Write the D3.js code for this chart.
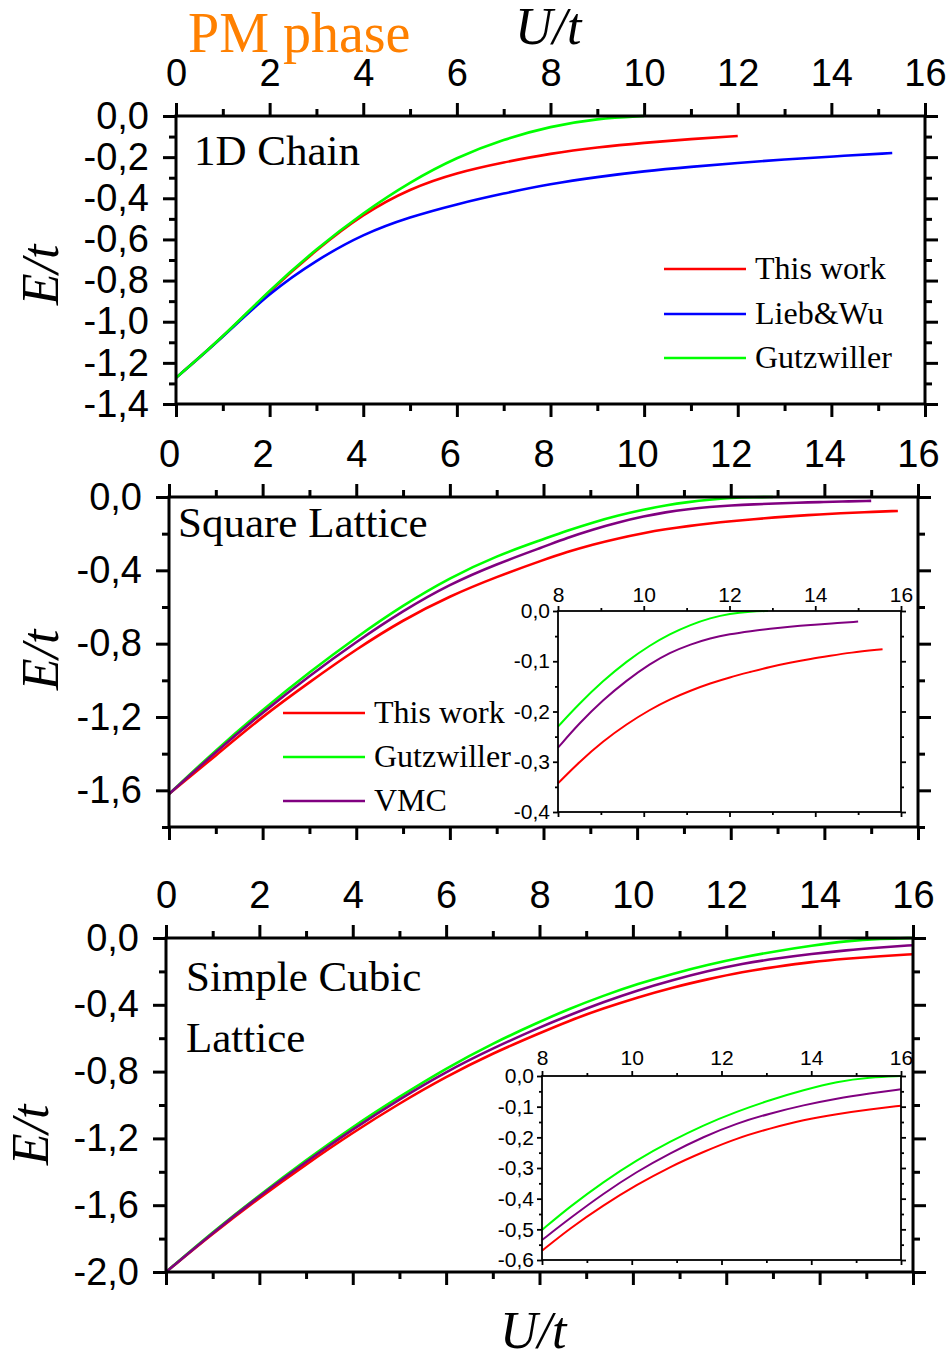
<!DOCTYPE html>
<html><head><meta charset="utf-8">
<script src="https://cdn.jsdelivr.net/npm/d3@7"></script>
<style>html,body{margin:0;padding:0;background:#fff;}svg{display:block;}</style>
</head><body>
<script>
// ---------------- data ----------------
// 1D chain
const uChainThis = [0,1,2,3,4,5,6,7,8,9,10,11,12];
const chainThisWork = [-1.273,-1.075,-0.85,-0.65,-0.475,-0.352,-0.275,-0.225,-0.182,-0.152,-0.13,-0.112,-0.097];
const uChainLW = [0,1,2,3,4,5,6,7,8,9,10,11,12,13,14,15.3];
const chainLiebWu = [-1.273,-1.075,-0.858,-0.7,-0.573,-0.49,-0.428,-0.376,-0.33,-0.296,-0.268,-0.247,-0.228,-0.211,-0.197,-0.18];
const uChainG = [0,1,2,3,4,5,6,7,8,9,10];
const chainGutz = [-1.273,-1.075,-0.845,-0.645,-0.47,-0.32,-0.2,-0.113,-0.05,-0.012,0];
// Square lattice
const uSqThis = [0,1,2,3,4,5,6,7,8,8.5,9.05,9.6,10.15,10.6,11.1,11.55,12,12.5,12.95,13.4,13.9,14.35,14.8,15.57];
const sqThisWork = [-1.62,-1.41,-1.196,-1.01,-0.83,-0.67,-0.54,-0.435,-0.343,-0.3,-0.259,-0.225,-0.196,-0.176,-0.158,-0.144,-0.132,-0.121,-0.111,-0.103,-0.095,-0.089,-0.083,-0.076];
const uSqG = [0,1,2,3,4,5,6,7,8,8.5,9.05,9.6,10.15,10.6,11.1,11.55,12,12.5,12.9];
const sqGutz = [-1.62,-1.38,-1.16,-0.955,-0.765,-0.59,-0.44,-0.32,-0.23,-0.184,-0.139,-0.1,-0.068,-0.046,-0.027,-0.014,-0.005,-0.001,0];
const uSqV = [0,1,2,3,4,5,6,7,8,8.5,9.05,9.6,10.15,10.6,11.1,11.55,12,12.5,12.95,13.4,13.9,14.35,15];
const sqVMC = [-1.62,-1.39,-1.175,-0.975,-0.79,-0.62,-0.475,-0.365,-0.272,-0.223,-0.177,-0.138,-0.105,-0.083,-0.066,-0.054,-0.046,-0.04,-0.035,-0.031,-0.028,-0.025,-0.021];
// Simple cubic lattice
const uSc = [0,1,2,3,4,5,6,7,8,8.62,9.37,10.11,10.85,11.6,12.34,13.08,13.83,14.57,15.31,16];
const scThisWork = [-2.0,-1.77,-1.555,-1.355,-1.165,-0.99,-0.83,-0.69,-0.57,-0.497,-0.421,-0.355,-0.296,-0.247,-0.203,-0.171,-0.143,-0.124,-0.109,-0.097];
const scGutz = [-2.0,-1.76,-1.54,-1.33,-1.13,-0.95,-0.78,-0.63,-0.502,-0.426,-0.345,-0.274,-0.214,-0.160,-0.116,-0.078,-0.046,-0.018,-0.004,0];
const scVMC = [-2.0,-1.765,-1.545,-1.34,-1.145,-0.965,-0.80,-0.66,-0.535,-0.464,-0.383,-0.312,-0.252,-0.198,-0.154,-0.122,-0.095,-0.073,-0.057,-0.043];

// ticks
const xMajor = [0,2,4,6,8,10,12,14,16];
const xMinor = [1,3,5,7,9,11,13,15];
const y1Major = [0,-0.2,-0.4,-0.6,-0.8,-1.0,-1.2,-1.4];
const y1Minor = [-0.1,-0.3,-0.5,-0.7,-0.9,-1.1,-1.3];
const y2Major = [0,-0.4,-0.8,-1.2,-1.6];
const y2Minor = [-0.2,-0.6,-1.0,-1.4,-1.8];
const y3Major = [0,-0.4,-0.8,-1.2,-1.6,-2.0];
const y3Minor = [-0.2,-0.6,-1.0,-1.4,-1.8];
const insXMajor = [8,10,12,14,16];
const insXMinor = [9,11,13,15];
const ins2YMajor = [0,-0.1,-0.2,-0.3,-0.4];
const ins2YMinor = [-0.05,-0.15,-0.25,-0.35];
const ins3YMajor = [0,-0.1,-0.2,-0.3,-0.4,-0.5,-0.6];
const ins3YMinor = [-0.05,-0.15,-0.25,-0.35,-0.45,-0.55];

const legend1 = ["This work","Lieb&Wu","Gutzwiller"];
const legend2 = ["This work","Gutzwiller","VMC"];

const RED="#ff0000", BLUE="#0000ff", GREEN="#00ff00", PURPLE="#800080";
const SANS = "'Liberation Sans', Arial, sans-serif";
const SERIF = "'Liberation Serif', 'Times New Roman', serif";

const loc = d3.formatLocale({decimal:",", thousands:".", grouping:[3], currency:["",""], minus:"-"});
const f1 = loc.format(".1f");
const fInt = loc.format("d");

const W=952, H=1357;
const svg = d3.select("body").append("svg").attr("width",W).attr("height",H);
svg.append("rect").attr("width",W).attr("height",H).attr("fill","#fff");

function zip(u, e){ return u.map((d,i)=>({u:d, e:e[i]})); }

function axes(g, x, y, o){
  const [x0,x1] = x.range(); const [yb,yt] = y.range();
  const style = sel => {
    sel.select(".domain").remove();
    sel.selectAll("line").attr("stroke","#000").attr("stroke-width",o.sw);
    sel.selectAll("text").attr("font-family",SANS).attr("font-size",o.fs).attr("fill","#000");
  };
  g.append("g").attr("transform",`translate(0,${yt})`)
    .call(d3.axisTop(x).tickValues(o.xMajor).tickSize(o.maj).tickPadding(o.xPad).tickFormat(fInt)).call(style);
  g.append("g").attr("transform",`translate(0,${yt})`)
    .call(d3.axisTop(x).tickValues(o.xMinor).tickSize(o.min).tickFormat("")).call(style);
  g.append("g").attr("transform",`translate(0,${yb})`)
    .call(d3.axisBottom(x).tickValues(o.xMajor).tickSize(o.maj).tickFormat("")).call(style);
  g.append("g").attr("transform",`translate(0,${yb})`)
    .call(d3.axisBottom(x).tickValues(o.xMinor).tickSize(o.min).tickFormat("")).call(style);
  g.append("g").attr("transform",`translate(${x0},0)`)
    .call(d3.axisLeft(y).tickValues(o.yMajor).tickSize(o.maj).tickPadding(o.yPad).tickFormat(f1)).call(style);
  g.append("g").attr("transform",`translate(${x0},0)`)
    .call(d3.axisLeft(y).tickValues(o.yMinor).tickSize(o.min).tickFormat("")).call(style);
  g.append("g").attr("transform",`translate(${x1},0)`)
    .call(d3.axisRight(y).tickValues(o.yMajor).tickSize(o.maj).tickFormat("")).call(style);
  g.append("g").attr("transform",`translate(${x1},0)`)
    .call(d3.axisRight(y).tickValues(o.yMinor).tickSize(o.min).tickFormat("")).call(style);
  g.append("rect").attr("x",x0).attr("y",yt).attr("width",x1-x0).attr("height",yb-yt)
    .attr("fill","none").attr("stroke","#000").attr("stroke-width",o.sw);
}

function curve(g, x, y, data, color, w){
  const line = d3.line().x(d=>x(d.u)).y(d=>y(d.e)).curve(d3.curveBasis);
  g.append("path").datum(data).attr("d",line).attr("fill","none").attr("stroke",color)
    .attr("stroke-width",w).attr("stroke-linejoin","round").attr("stroke-linecap","butt");
}

function legend(g, items, colors, lx0, lx1, ys, tx){
  items.forEach((t,i)=>{
    g.append("line").attr("x1",lx0).attr("x2",lx1).attr("y1",ys[i]).attr("y2",ys[i])
      .attr("stroke",colors[i]).attr("stroke-width",2.5);
    g.append("text").attr("x",tx).attr("y",ys[i]+10).text(t)
      .attr("font-family",SERIF).attr("font-size",32).attr("fill","#000");
  });
}

const mainOpts = {xMajor, xMinor, maj:13, min:7, sw:3, fs:38, xPad:17, yPad:14};
const insOpts = {xMajor:insXMajor, xMinor:insXMinor, maj:5, min:3, sw:1.8, fs:21, xPad:4, yPad:3};

// ---------- Panel 1 ----------
{
  const x = d3.scaleLinear().domain([0,16]).range([176,925]);
  const y = d3.scaleLinear().domain([-1.4,0]).range([404,116]);
  const g = svg.append("g");
  curve(g,x,y,zip(uChainThis,chainThisWork),RED,2.6);
  curve(g,x,y,zip(uChainLW,chainLiebWu),BLUE,2.6);
  curve(g,x,y,zip(uChainG,chainGutz),GREEN,2.6);
  axes(g,x,y,Object.assign({},mainOpts,{yMajor:y1Major,yMinor:y1Minor}));
  g.append("text").attr("x",194).attr("y",165).text("1D Chain").attr("font-family",SERIF).attr("font-size",43);
  legend(g,legend1,[RED,BLUE,GREEN],664,746,[269,314,358],755);
  g.append("text").attr("transform","translate(58,275) rotate(-90)").attr("text-anchor","middle")
    .text("E/t").attr("font-family",SERIF).attr("font-style","italic").attr("font-size",52);
}
// ---------- Panel 2 ----------
{
  const x = d3.scaleLinear().domain([0,16]).range([169,918]);
  const y = d3.scaleLinear().domain([-1.8,0]).range([827,497]);
  const g = svg.append("g");
  curve(g,x,y,zip(uSqThis,sqThisWork),RED,2.6);
  curve(g,x,y,zip(uSqG,sqGutz),GREEN,2.6);
  curve(g,x,y,zip(uSqV,sqVMC),PURPLE,2.6);
  axes(g,x,y,Object.assign({},mainOpts,{yMajor:y2Major,yMinor:y2Minor}));
  g.append("text").attr("x",178).attr("y",537).text("Square Lattice").attr("font-family",SERIF).attr("font-size",43);
  legend(g,legend2,[RED,GREEN,PURPLE],283,365,[713,757,801],374);
  g.append("text").attr("transform","translate(58,660) rotate(-90)").attr("text-anchor","middle")
    .text("E/t").attr("font-family",SERIF).attr("font-style","italic").attr("font-size",52);
  const xi = d3.scaleLinear().domain([8,16]).range([558,901]);
  const yi = d3.scaleLinear().domain([-0.4,0]).range([812,611]);
  const gi = svg.append("g");
  gi.append("rect").attr("x",558).attr("y",611).attr("width",343).attr("height",201).attr("fill","#fff");
  const f = a => a.filter(d=>d.u>=8);
  curve(gi,xi,yi,f(zip(uSqThis,sqThisWork)),RED,2);
  curve(gi,xi,yi,f(zip(uSqG,sqGutz)),GREEN,2);
  curve(gi,xi,yi,f(zip(uSqV,sqVMC)),PURPLE,2);
  axes(gi,xi,yi,Object.assign({},insOpts,{yMajor:ins2YMajor,yMinor:ins2YMinor}));
}
// ---------- Panel 3 ----------
{
  const x = d3.scaleLinear().domain([0,16]).range([166,913]);
  const y = d3.scaleLinear().domain([-2.0,0]).range([1272,938]);
  const g = svg.append("g");
  curve(g,x,y,zip(uSc,scThisWork),RED,2.6);
  curve(g,x,y,zip(uSc,scGutz),GREEN,2.6);
  curve(g,x,y,zip(uSc,scVMC),PURPLE,2.6);
  axes(g,x,y,Object.assign({},mainOpts,{yMajor:y3Major,yMinor:y3Minor}));
  g.append("text").attr("x",186).attr("y",991).text("Simple Cubic").attr("font-family",SERIF).attr("font-size",43);
  g.append("text").attr("x",186).attr("y",1052).text("Lattice").attr("font-family",SERIF).attr("font-size",43);
  g.append("text").attr("transform","translate(48,1135) rotate(-90)").attr("text-anchor","middle")
    .text("E/t").attr("font-family",SERIF).attr("font-style","italic").attr("font-size",52);
  const xi = d3.scaleLinear().domain([8,16]).range([542,901]);
  const yi = d3.scaleLinear().domain([-0.6,0]).range([1260,1076]);
  const gi = svg.append("g");
  gi.append("rect").attr("x",542).attr("y",1076).attr("width",359).attr("height",184).attr("fill","#fff");
  const f = a => a.filter(d=>d.u>=8);
  curve(gi,xi,yi,f(zip(uSc,scThisWork)),RED,2);
  curve(gi,xi,yi,f(zip(uSc,scGutz)),GREEN,2);
  curve(gi,xi,yi,f(zip(uSc,scVMC)),PURPLE,2);
  axes(gi,xi,yi,Object.assign({},insOpts,{yMajor:ins3YMajor,yMinor:ins3YMinor,xPad:6}));
}
// titles
svg.append("text").attr("x",188).attr("y",52).text("PM phase").attr("font-family",SERIF).attr("font-size",56).attr("fill","#ff8000");
svg.append("text").attr("x",515).attr("y",44).text("U/t").attr("font-family",SERIF).attr("font-style","italic").attr("font-size",52);
svg.append("text").attr("x",500).attr("y",1348).text("U/t").attr("font-family",SERIF).attr("font-style","italic").attr("font-size",52);
</script>
</body></html>
